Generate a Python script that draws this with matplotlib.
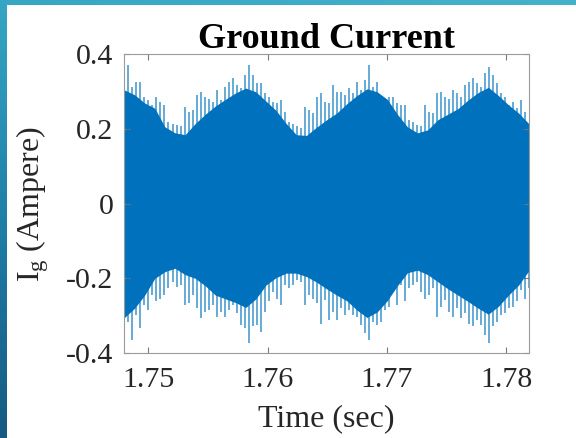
import numpy as np
import matplotlib
matplotlib.use("Agg")
import matplotlib.pyplot as plt

plt.rcParams["font.family"] = ["Liberation Serif", "DejaVu Serif"]
plt.rcParams["mathtext.fontset"] = "stix"
plt.rcParams["axes.unicode_minus"] = False

# time window shown (sec)
t_start, t_end = 1.748, 1.7819

# solid body of the signal: upper / lower envelope (A)
core_upper = [0.305, 0.292, 0.270, 0.256, 0.206, 0.190, 0.185, 0.215, 0.240, 0.262,
              0.280, 0.297, 0.310, 0.300, 0.275, 0.250, 0.215, 0.185, 0.183, 0.205,
              0.225, 0.243, 0.268, 0.290, 0.308, 0.300, 0.280, 0.240, 0.206, 0.190,
              0.198, 0.225, 0.240, 0.255, 0.278, 0.298, 0.312, 0.290, 0.265, 0.243,
              0.215]
core_lower = [-0.305, -0.280, -0.245, -0.200, -0.182, -0.173, -0.190, -0.200, -0.220, -0.245,
              -0.255, -0.265, -0.278, -0.255, -0.218, -0.198, -0.186, -0.186, -0.195, -0.210,
              -0.228, -0.245, -0.260, -0.285, -0.305, -0.290, -0.260, -0.220, -0.185, -0.178,
              -0.190, -0.209, -0.228, -0.245, -0.262, -0.280, -0.296, -0.275, -0.245, -0.218,
              -0.180]

# individual peaks sticking out of the body (A)
peak_upper = [0.327, 0.372, 0.314, 0.327, 0.327, 0.287, 0.278, 0.265, 0.287, 0.274,
              0.265, 0.220, 0.215, 0.211, 0.207, 0.260, 0.247, 0.251, 0.291, 0.300,
              0.287, 0.282, 0.274, 0.305, 0.278, 0.314, 0.327, 0.336, 0.318, 0.309,
              0.345, 0.372, 0.345, 0.323,
              0.323, 0.296, 0.287, 0.274, 0.269, 0.278, 0.247, 0.220, 0.215, 0.207,
              0.202, 0.260, 0.251, 0.242, 0.287, 0.296, 0.274, 0.269, 0.318, 0.300,
              0.300, 0.291, 0.309, 0.296, 0.327, 0.305, 0.332, 0.372, 0.314, 0.327,
              0.287, 0.282, 0.287, 0.287,
              0.269, 0.265, 0.265, 0.224, 0.220, 0.211, 0.207, 0.265, 0.247, 0.242,
              0.296, 0.300, 0.287, 0.282, 0.305, 0.296, 0.287, 0.318, 0.327, 0.336,
              0.323, 0.314, 0.350, 0.367, 0.345, 0.323, 0.296, 0.287, 0.265, 0.274,
              0.256, 0.278, 0.247, 0.215]
peak_lower = [-0.352, -0.316, -0.365, -0.298, -0.334, -0.271, -0.285, -0.245, -0.262, -0.254,
              -0.245, -0.227, -0.209, -0.222, -0.218, -0.271, -0.267, -0.245, -0.280, -0.307,
              -0.289, -0.285, -0.271, -0.303, -0.289, -0.303, -0.285, -0.271, -0.294, -0.325,
              -0.334, -0.374, -0.329, -0.325,
              -0.343, -0.289, -0.262, -0.236, -0.254, -0.271, -0.218, -0.227, -0.218, -0.205,
              -0.209, -0.271, -0.245, -0.254, -0.267, -0.321, -0.258, -0.311, -0.289, -0.311,
              -0.280, -0.298, -0.285, -0.298, -0.303, -0.325, -0.347, -0.365, -0.316, -0.325,
              -0.316, -0.285, -0.276, -0.227,
              -0.271, -0.218, -0.262, -0.227, -0.218, -0.209, -0.236, -0.254, -0.245, -0.227,
              -0.303, -0.276, -0.258, -0.289, -0.303, -0.280, -0.307, -0.294, -0.321, -0.329,
              -0.311, -0.325, -0.352, -0.374, -0.329, -0.316, -0.298, -0.294, -0.280, -0.276,
              -0.262, -0.232, -0.254, -0.227]

x_ticks = [1.75, 1.76, 1.77, 1.78]
y_ticks = [-0.4, -0.2, 0, 0.2, 0.4]
y_ticklabels = ["-0.4", "-0.2", "0", "0.2", "0.4"]

blue = "#0072BD"
gray = "#262626"

fig = plt.figure(figsize=(5.76, 4.38), dpi=100)
fig.patch.set_facecolor("white")

# slide frame: teal strip on top, gradient strip down the left side
frame = fig.add_axes([0, 0, 1, 1], zorder=-10)
frame.set_axis_off()
grad = np.linspace(0, 1, 256).reshape(-1, 1)
cmap_side = matplotlib.colors.LinearSegmentedColormap.from_list(
    "side", ["#36A6C4", "#1F7FA8", "#155A83"])
frame.imshow(grad, cmap=cmap_side, extent=(0, 7, 438, 0), aspect="auto")
cmap_top = matplotlib.colors.LinearSegmentedColormap.from_list(
    "top", ["#36A6C4", "#45B2CC"])
frame.imshow(grad.T, cmap=cmap_top, extent=(0, 576, 5, 0), aspect="auto")
frame.set_xlim(0, 576)
frame.set_ylim(438, 0)

ax = fig.add_axes([0.2161, 0.1941, 0.7018, 0.6815])

t_core = np.linspace(t_start, t_end, len(core_upper))
t_up = np.linspace(t_start, t_end, len(peak_upper))
t_lo = np.linspace(t_start, t_end, len(peak_lower))

ax.vlines(t_up, 0, peak_upper, color=blue, lw=1.4, alpha=0.6)
ax.vlines(t_lo, 0, peak_lower, color=blue, lw=1.4, alpha=0.6)
ax.fill_between(t_core, core_lower, core_upper, color=blue, lw=0)

ax.set_xlim(t_start, t_end)
ax.set_ylim(-0.4, 0.4)
ax.set_xticks(x_ticks)
ax.set_xticklabels([f"{v:.2f}" for v in x_ticks])
ax.set_yticks(y_ticks)
ax.set_yticklabels(y_ticklabels)

for s in ax.spines.values():
    s.set_color("#9a9a9a")
    s.set_linewidth(0.8)
ax.tick_params(direction="in", top=True, right=True, length=4, width=0.8,
               color="#7a7a7a", labelsize=21.5, labelcolor=gray)
ax.tick_params(axis="x", pad=10)
ax.tick_params(axis="y", pad=8)

ax.set_title("Ground Current", fontsize=26, fontweight="bold", pad=5)
ax.set_xlabel("Time (sec)", fontsize=23, color=gray, labelpad=8)
ax.set_ylabel(r"$\mathregular{I_g}$ (Ampere)", fontsize=23, color=gray, labelpad=11)

fig.savefig("out.png", dpi=100)
